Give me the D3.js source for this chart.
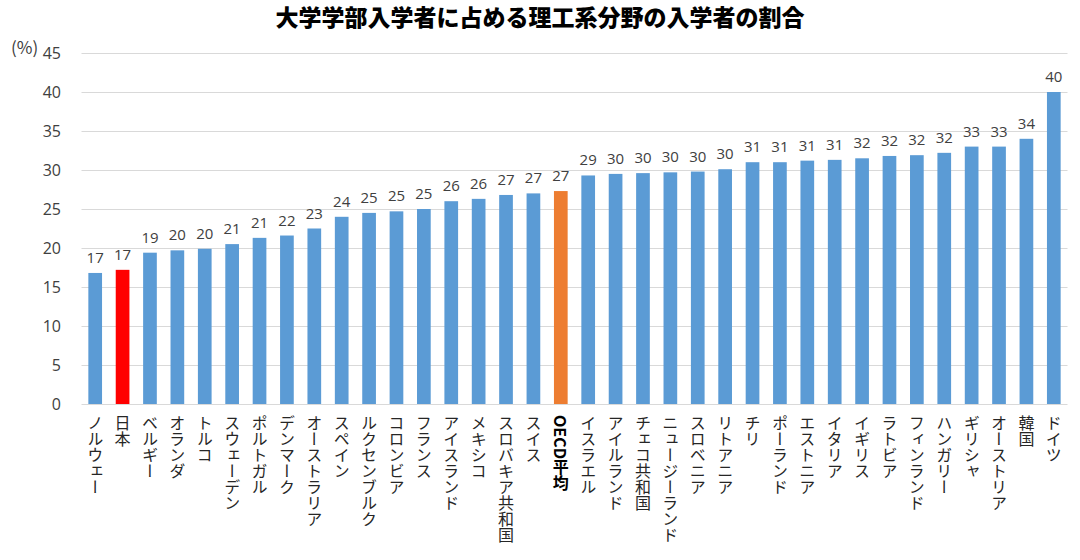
<!DOCTYPE html>
<html>
<head>
<meta charset="utf-8">
<script src="https://cdn.jsdelivr.net/npm/d3@7"></script>
<style>
  html, body { margin: 0; padding: 0; background: #fff; }
  svg { display: block; font-family: "Noto Sans CJK JP", "Noto Sans", sans-serif; }
</style>
</head>
<body>
<svg id="chart" width="1080" height="560"></svg>
<script>
const titleText = "大学学部入学者に占める理工系分野の入学者の割合";
const unitLabel = "(%)";
const categories = ["ノルウェー","日本","ベルギー","オランダ","トルコ","スウェーデン","ポルトガル","デンマーク","オーストラリア","スペイン","ルクセンブルク","コロンビア","フランス","アイスランド","メキシコ","スロバキア共和国","スイス","OECD平均","イスラエル","アイルランド","チェコ共和国","ニュージーランド","スロベニア","リトアニア","チリ","ポーランド","エストニア","イタリア","イギリス","ラトビア","フィンランド","ハンガリー","ギリシャ","オーストリア","韓国","ドイツ"];
const values = [16.8,17.2,19.4,19.7,19.9,20.5,21.3,21.6,22.5,24.0,24.5,24.7,25.0,26.0,26.3,26.8,27.0,27.3,29.3,29.5,29.6,29.7,29.8,30.1,31.0,31.0,31.2,31.3,31.5,31.8,31.9,32.2,33.0,33.0,34.0,40.0];
const yTicks = [0,5,10,15,20,25,30,35,40,45];
const highlightJapan = "日本";
const highlightOECD = "OECD平均";

const svg = d3.select("#chart");
const plot = { left: 81.5, right: 1067.5, top: 53, bottom: 404 };
const numFont = "'Open Sans', 'Noto Sans', sans-serif";

const x = d3.scaleBand().domain(categories).range([plot.left, plot.right]).paddingInner(0.5).paddingOuter(0.25);
const y = d3.scaleLinear().domain([0, 45]).range([plot.bottom, plot.top]);

// title
svg.append("text")
  .attr("x", 540).attr("y", 26)
  .attr("text-anchor", "middle")
  .attr("font-size", 23).attr("font-weight", 900)
  .attr("fill", "#000")
  .text(titleText);

// gridlines
svg.append("g").selectAll("line").data(yTicks).join("line")
  .attr("x1", plot.left).attr("x2", plot.right)
  .attr("y1", d => Math.round(y(d)) + 0.5).attr("y2", d => Math.round(y(d)) + 0.5)
  .attr("stroke", "#d9d9d9").attr("stroke-width", 1);

// y axis labels
const yAxis = d3.axisLeft(y).tickValues(yTicks).tickSize(0).tickPadding(0);
const gy = svg.append("g").attr("transform", `translate(61,0)`).call(yAxis);
gy.select(".domain").remove();
gy.selectAll("text").attr("font-size", 16).attr("fill", "#404040")
  .attr("font-family", numFont);

// unit label
svg.append("text").attr("x", 11).attr("y", 54)
  .attr("font-size", 17).attr("fill", "#404040").text(unitLabel);

// bars
svg.append("g").selectAll("rect").data(categories).join("rect")
  .attr("x", d => x(d))
  .attr("width", x.bandwidth())
  .attr("y", (d, i) => y(values[i]))
  .attr("height", (d, i) => y(0) - y(values[i]))
  .attr("fill", d => d === highlightJapan ? "#ff0000" : d === highlightOECD ? "#ed7d31" : "#5b9bd5");

// value labels
svg.append("g").selectAll("text").data(categories).join("text")
  .attr("x", d => x(d) + x.bandwidth() / 2)
  .attr("y", (d, i) => y(values[i]) - 10)
  .attr("text-anchor", "middle")
  .attr("font-size", 15).attr("fill", "#404040")
  .attr("font-family", numFont)
  .text((d, i) => Math.round(values[i]));

// category labels (vertical)
svg.append("g").selectAll("text").data(categories).join("text")
  .attr("x", d => x(d) + x.bandwidth() / 2)
  .attr("y", 415)
  .attr("style", "writing-mode: vertical-rl;")
  .attr("font-size", 16)
  .attr("font-weight", d => d === highlightOECD ? 700 : 400)
  .attr("fill", d => d === highlightOECD ? "#000" : "#262626")
  .text(d => d);
</script>
</body>
</html>
